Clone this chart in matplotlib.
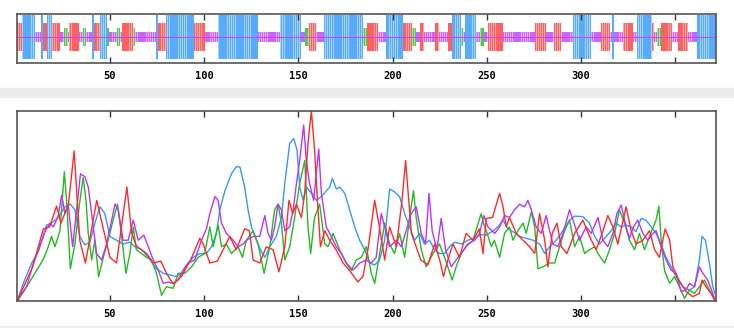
import matplotlib
matplotlib.use("Agg")
import matplotlib.pyplot as plt
from matplotlib.patches import Rectangle

# secondary structure as runs: H helix, E strand, T turn, C coil
ss_codes = ["E", "H", "C", "H", "E", "H", "E", "C", "T", "C",
            "E", "C", "T", "C", "H", "E", "H", "T", "C", "T",
            "C", "E", "T", "C", "H", "E", "H", "E", "C", "H",
            "C", "H", "C", "T", "E", "C", "H", "T", "E", "C",
            "H", "E", "T", "C", "E", "C", "E", "C", "E", "H",
            "T", "C", "H", "C", "T", "C", "E", "C", "E", "C",
            "E", "C", "H", "C", "E", "C", "H", "C", "E", "C",
            "H", "E", "C", "T", "E", "C", "E", "C", "H"]
ss_lengths = [3, 7, 3, 1, 2, 3, 4, 2, 2, 1,
              5, 2, 2, 3, 1, 3, 4, 1, 4, 2,
              1, 6, 1, 11, 1, 4, 15, 6, 7, 21,
              12, 11, 2, 2, 4, 4, 21, 2, 6, 4,
              9, 5, 2, 2, 2, 6, 2, 5, 2, 5,
              1, 1, 6, 2, 2, 2, 8, 17, 6, 4,
              4, 6, 10, 5, 5, 1, 1, 5, 5, 2,
              8, 1, 2, 2, 6, 3, 5, 5, 10]

# prediction curves (position, score)
red_x = [1, 9, 14.7, 18, 21.7, 24, 28, 31, 34, 37, 43, 50, 53.5, 59, 61.5, 64, 69.5, 73,
         77, 80, 83.5, 88, 93, 97.7, 99.5, 103, 107, 113.6, 117, 121.5, 124, 126, 129.5,
         133, 136.6, 139.7, 142.8, 145, 147, 149, 151.6, 153.4, 155.1, 156.9, 158.6, 160,
         161.7, 164, 166.6, 170, 173.7, 177.2, 181.6, 184.3, 186.9, 190.5, 193, 195.8,
         198.4, 202, 205, 206.9, 208, 210, 212.5, 215, 218.7, 222.3, 225, 227, 229.3, 232,
         235.5, 239, 242.6, 246, 248, 249.7, 253, 256.8, 258.6, 260.3, 262, 265.6, 269.2,
         272.7, 275.4, 278, 280.7, 282.4, 284.7, 287.2, 289.5, 292.5, 296.6, 301, 304.5,
         308, 311.2, 314.2, 316.9, 319.5, 323.9, 326.6, 329.2, 332.8, 336.3, 339, 341.6,
         344.6, 347, 348.7, 351.9, 355.7, 359.3, 362.8, 364.2, 366.3, 369, 370.8]
red_y = [0.5, 18, 38, 39, 50, 41, 51, 79, 32, 20, 53, 23, 20, 60, 36, 29, 25, 20,
         21, 14.6, 9, 13, 22, 33, 30, 20, 21, 34, 27, 38, 37, 21.6, 20,
         28.6, 27, 15.4, 28.6, 53, 46, 51, 44, 57, 83, 100, 79.5, 55,
         28.6, 37, 32, 27, 20, 16, 10, 13, 27, 53, 39, 21.6,
         39, 28.6, 53, 74, 60, 35.6, 28.6, 21.6, 19, 30, 21.6, 12.8, 21.6, 30,
         23, 35.6, 32, 38, 25, 43.5, 44, 56.7, 49.6, 39, 44, 35.6, 32,
         28.6, 25, 46, 32, 18, 35.6, 41, 28.6, 25, 35.6, 42.6, 34,
         27, 35.6, 45, 39, 30, 49.6, 37, 30, 32, 37, 27, 23,
         38, 32, 18, 11, 5, 2.3, 4, 11, 7.5, 4, 0.5]

green_x = [1, 5.8, 11, 14.7, 17.3, 19, 20.8, 23.5, 25.8, 27, 29, 31.4, 33.7, 35.8, 37.3,
           38.5, 40.3, 42, 44, 46.5, 49, 51.7, 54, 56, 58.5, 60.6, 62.4, 64, 66.8, 69.4,
           72, 74.7, 77.4, 80, 83.6, 86.2, 89.7, 93.3, 96.8, 100.3, 103, 104.8, 107.4,
           109.2, 111.8, 114.5, 118, 120.3, 122.4, 126, 128.6, 131.8, 134.8, 137.4, 139.2,
           141, 142.8, 145.4, 148, 150.7, 153.4, 155.1, 156.5, 158.6, 161.3, 164, 165.7,
           168.4, 171.9, 175.4, 178.1, 180.7, 183.4, 186, 188.7, 190.5, 193.1, 195.8, 198.4,
           201, 203.7, 206.4, 209, 211.1, 212.5, 215.2, 217.8, 221.4, 224.9, 227.6, 229.3,
           231.6, 233.7, 236.4, 239, 242.6, 247, 248.5, 249.7, 252.4, 254, 256.8, 259.4,
           262, 263.9, 266.5, 269.2, 270.9, 273.6, 275.4, 277.1, 279.8, 283.3, 286, 288.6,
           291.3, 293.9, 296.6, 299.2, 301.9, 304.5, 307.2, 309, 312.5, 315.1, 317.8, 320.4,
           323.1, 325.7, 328.4, 331, 333.7, 336.3, 339.8, 341.3, 342.5, 344.3, 347, 349.6,
           352.2, 354.9, 357.5, 360.2, 362.8, 365.5, 368.1, 370.8]
green_y = [0, 7.5, 16, 22, 28.6, 34, 28.6, 37, 68, 53, 17, 30, 50, 65, 53,
           35.6, 21.6, 32, 12.8, 23, 32, 42.6, 51, 35.6, 14.6, 25, 39, 27, 25, 23,
           21.6, 14.6, 3, 7.5, 6.7, 14.6, 14.6, 18, 23, 25, 39, 28.6, 40,
           28.6, 30, 25, 28.6, 23, 32, 37, 30, 14.6, 28.6, 48, 51,
           41, 21.6, 28.6, 44, 62, 74, 39, 25, 44, 51, 30, 28.6,
           35.6, 27, 20, 16, 21.6, 23, 28.6, 14.6, 9.3, 25, 41, 30,
           25, 35.6, 23, 44, 58, 44, 27, 18, 25, 30, 23, 18,
           11, 18, 25, 28.6, 32, 46, 40, 37, 28.6, 32, 23, 35.6,
           39, 32, 37, 41, 35.6, 47, 39, 17, 18, 20, 20, 28.6,
           37, 42.6, 28.6, 34, 25, 27, 28.6, 25, 20, 27, 35.6, 48,
           41, 32, 27, 35.6, 27, 34, 42.6, 50, 32, 16, 9.3, 12.8,
           7.5, 1.4, 5.8, 4, 7.5, 11, 5.8, 1.4]

blue_x = [1, 4, 8.5, 12, 16.4, 19, 22.6, 26.1, 29, 31.4, 34, 36.7, 39.4, 42, 44.7, 47.3,
          50, 53.5, 57, 60.6, 63.2, 66.8, 70.3, 74.7, 78.3, 81.8, 85.4, 88, 91.5, 94.2,
          97.7, 101.2, 103.9, 106.5, 108.3, 111, 114.5, 117, 119, 121.5, 123.3, 125.1,
          127.7, 130.4, 132.2, 134.8, 138.3, 141, 142.8, 145.4, 147.5, 149.3, 150.7, 152.5,
          154.2, 156.9, 159.5, 162.2, 164.8, 166.6, 168, 170.1, 171.9, 174.6, 177.2, 179.9,
          182.5, 185.2, 187.8, 190.5, 193.1, 195.8, 198.4, 201, 203.7, 206.4, 209, 211.7,
          214.3, 216.9, 219.6, 222.3, 224.9, 227.6, 230.2, 232.9, 236.4, 239.9, 243.5, 247,
          249.7, 253.3, 255.9, 258.6, 261.2, 263.9, 267.4, 271, 274.5, 278, 280.7, 283.3,
          286.8, 290.4, 293.9, 296.6, 301, 304.5, 307.2, 309.8, 313.3, 316, 318.6, 321.3,
          323.9, 326.6, 329.2, 331.9, 334.5, 337.2, 339.8, 342.5, 345.1, 347.8, 350.4, 354,
          357.5, 360.2, 362.8, 364.2, 366, 368.1, 369.9, 371]
blue_y = [0.5, 9.3, 20, 26, 40, 41, 44, 49.6, 51, 48, 34, 29.5, 31, 41, 49.6, 46,
          34, 32, 30, 31, 28.6, 27, 23, 17, 14.6, 13.7, 12.8, 14.6, 20, 23,
          25, 25, 28.6, 35.6, 48, 58, 67, 70.7, 70.5, 60, 48, 39,
          32, 26, 23, 28.6, 34, 44, 62, 83, 85.6, 79.5, 60, 53,
          60, 56.7, 53, 55, 58, 60, 64.6, 59, 60, 56.7, 48, 39,
          32, 27, 20, 19, 21.6, 32, 59, 57.5, 55, 46, 39, 32,
          35.6, 30, 32, 27, 25, 25, 28.6, 31, 30, 32, 33, 35,
          34.7, 37, 39, 42.6, 38, 36.5, 34, 33, 32, 30, 25, 28.6,
          32, 37, 42.6, 44.7, 44.4, 41, 34, 30, 34, 37, 41, 39,
          40, 39, 36.5, 43.5, 42.6, 39, 35.6, 30, 23, 18, 12.8, 7.5,
          5.8, 7.5, 21.6, 34, 32, 20, 7.5, 4]

magenta_x = [1, 5.8, 9.4, 13, 15.5, 18.2, 20, 22.6, 24.4, 26.1, 27.9, 30.2, 32.3, 34.4,
             36.7, 38.5, 40.3, 42.9, 45.6, 48.2, 50.9, 52.7, 54.4, 57, 59.7, 62.4, 65, 68,
             70.3, 73, 75.6, 78.3, 80.9, 83.6, 86.2, 88.9, 91.5, 95, 98.6, 101.2, 103,
             105.7, 107.4, 109.2, 111.8, 115.4, 118, 120.7, 122.4, 126, 129.5, 132.2, 133.9,
             135.7, 137.4, 139.2, 141, 142.8, 145.4, 147.2, 149, 150.7, 152.8, 154.2, 155.9,
             158.1, 160.8, 162.2, 164.8, 167.5, 170.1, 172.8, 175.4, 179, 182.5, 186, 188.7,
             191.3, 194, 195.8, 198.4, 202, 204.6, 207.2, 209.9, 212.5, 215.2, 217.5, 219.3,
             221, 223.5, 225.8, 228.1, 231.1, 233.7, 236.4, 239.9, 243.5, 246.1, 248.4,
             250.6, 254.2, 256.8, 259.4, 262, 264.7, 267.4, 270, 271.8, 273.6, 276.2, 278.9,
             281.5, 283.3, 285.1, 287.7, 290.4, 293.9, 296.6, 299.2, 302.7, 305.4, 309,
             311.6, 314.2, 316.9, 319, 321.3, 323.9, 325.7, 327.8, 330.1, 332.8, 335.4,
             338.1, 339.8, 342.5, 345.1, 347.8, 350.4, 353.1, 355.7, 357.5, 360.2, 362.8,
             364.6, 367.2, 369.9, 371]
magenta_y = [1, 7.5, 20, 29.5, 36.5, 41, 39, 45, 55.8, 46, 50.5, 28.6, 48, 67,
             65.4, 60, 46, 25, 21.6, 30, 42.6, 51, 48, 32, 32, 42.6, 32, 34.7,
             28.6, 21.6, 16.3, 9.3, 10, 9.3, 11, 16.3, 20, 21.6, 32, 38, 46,
             55, 53, 41, 35.6, 32, 28.6, 30, 32, 34, 34, 45, 35.6,
             32, 39, 51, 48, 37, 39, 48, 62, 74, 92.6, 74, 62,
             53, 80, 56.7, 39, 34, 28.6, 25, 20, 16.3, 20, 21.6, 20,
             23, 46, 39, 28.6, 32, 28.6, 37, 46, 49.6, 35.6, 30, 56.7,
             37, 27, 43.5, 27, 18, 21.6, 25, 30, 32, 35.6, 45,
             39, 35.6, 39, 45, 44, 48, 51, 49.6, 53, 48, 39, 35.6,
             45, 37, 30, 28.6, 35.6, 48, 40, 32, 39, 35.6, 44,
             32, 28.6, 35.6, 46, 50.5, 39, 33, 39, 42.6, 35.6, 32,
             35.6, 37, 28.6, 21.6, 16.3, 14.6, 5, 5.8, 9.3, 7.5, 18,
             14.6, 11, 4, 0.5]

ticks = [50, 100, 150, 200, 250, 300, 350]
tick_labels = ["50", "100", "150", "200", "250", "300", ""]

half_height = {"H": 22, "E": 14, "T": 9, "C": 5}
base = {"H": "#a9d3ff", "E": "#ffaaaa", "T": "#a8e6a8", "C": "#e4b0ff"}
fill = {"H": "#57acff", "E": "#ff6060", "T": "#4ccc4c", "C": "#c866ff"}

ss = "".join(c * n for c, n in zip(ss_codes, ss_lengths))
pos = list(range(1, len(ss) + 1))
hh = [half_height[c] for c in ss]

fig = plt.figure(figsize=(7.34, 3.28), dpi=100)
fig.patches.append(Rectangle((0, 0.704), 1, 0.028, transform=fig.transFigure,
                             color="#ececec", zorder=0))
fig.patches.append(Rectangle((0, 0), 1, 0.007, transform=fig.transFigure,
                             color="#ececec", zorder=0))

ax1 = fig.add_axes([0.0232, 0.808, 0.952, 0.149])
ax2 = fig.add_axes([0.0232, 0.0823, 0.952, 0.579])

# structure track, one striped column per residue
ax1.bar(pos, [2 * h for h in hh], bottom=[-h for h in hh], width=1.0,
        color=[base[c] for c in ss], linewidth=0)
ax1.bar(pos, [2 * h for h in hh], bottom=[-h for h in hh], width=0.7,
        color=[fill[c] for c in ss], linewidth=0)
ax1.axhline(0, color="#d040ff", lw=0.7)
ax1.set_ylim(-26.5, 23)

# score curves
ax2.plot(blue_x, blue_y, color="#3399ff", lw=1)
ax2.plot(green_x, green_y, color="#22bb22", lw=1)
ax2.plot(magenta_x, magenta_y, color="#bb33ff", lw=1)
ax2.plot(red_x, red_y, color="#ff2a2a", lw=1)
ax2.set_ylim(0, 100)

for ax in (ax1, ax2):
    ax.set_xlim(0.7, 371.5)
    ax.set_xticks(ticks)
    ax.set_xticklabels(tick_labels, fontfamily="DejaVu Sans Mono",
                       fontweight="bold", fontsize=7.5)
    ax.set_yticks([])
    ax.tick_params(axis="x", direction="in", top=True, length=4, width=1,
                   color="#333333", pad=6)
    for sp in ax.spines.values():
        sp.set_color("#555555")
        sp.set_linewidth(1.2)

fig.savefig("out.png", dpi=100)
